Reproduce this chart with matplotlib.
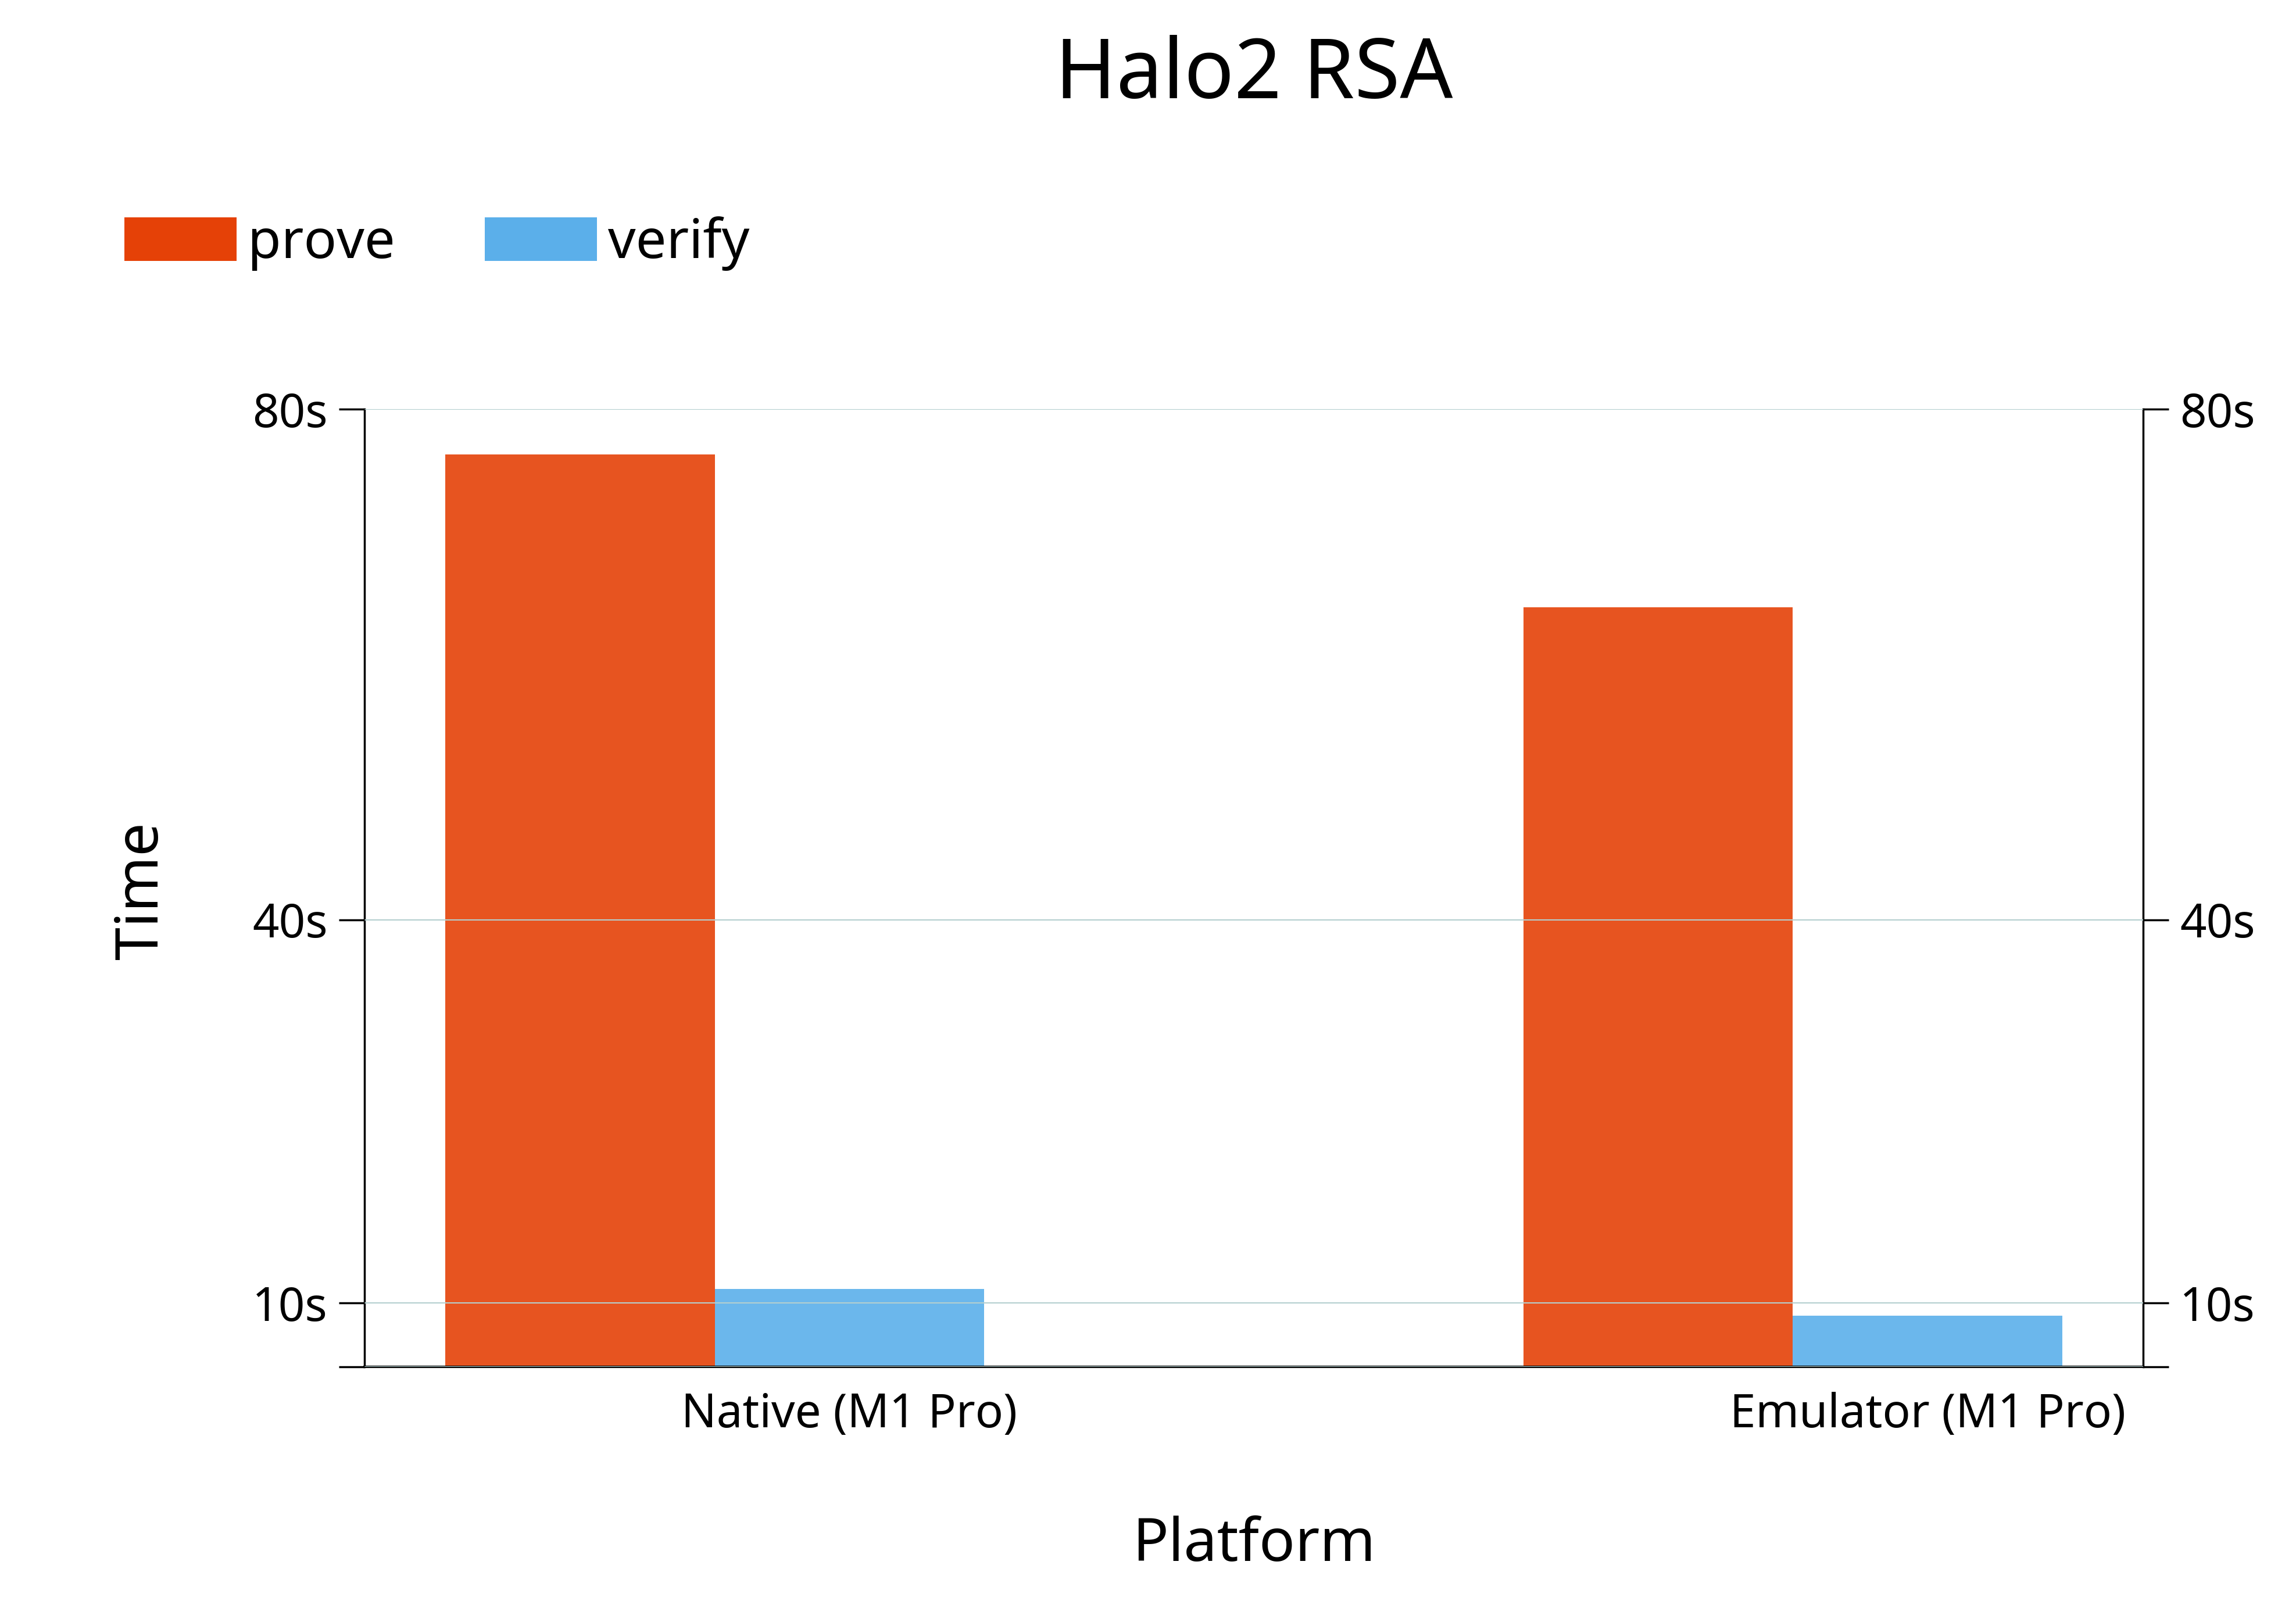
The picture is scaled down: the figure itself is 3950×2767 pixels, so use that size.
import matplotlib
matplotlib.use("Agg")
import matplotlib.pyplot as plt
from matplotlib.patches import Patch
import numpy as np

plt.rcParams['font.family'] = ['Noto Sans', 'DejaVu Sans']

# data (seconds)
platforms = ['Native (M1 Pro)', 'Emulator (M1 Pro)']
prove = [76.45, 64.5]
verify = [11.1, 9.0]
series = ['prove', 'verify']
y_ticks = [5, 10, 40, 80]
y_labels = ['', '10s', '40s', '80s']

prove_color = '#e54107'
verify_color = '#5bafea'
grid_color = '#b4cfcf'

fig = plt.figure(figsize=(15.8, 11.068), dpi=250)
ax = fig.add_axes([627 / 3950, 1 - 2352 / 2767, 3060 / 3950, 1648 / 2767])

x = np.arange(len(platforms))
w = 0.25
ax.bar(x - w / 2, prove, width=w, color=prove_color, alpha=0.9, linewidth=0)
ax.bar(x + w / 2, verify, width=w, color=verify_color, alpha=0.9, linewidth=0)

ax.set_xlim(-0.325, 1.325)
ax.set_ylim(5, 80)
ax.set_xticks(x + w / 2)
ax.set_xticklabels(platforms, fontsize=23)
ax.set_yticks(y_ticks)
ax.set_yticklabels(y_labels, fontsize=23)

ax.tick_params(axis='x', length=0, pad=12.5)
ax.tick_params(axis='y', length=12.7, width=1.0, pad=5.5, direction='out',
               right=True, labelright=True)

ax.set_axisbelow(False)
ax.grid(axis='y', color=grid_color, linewidth=0.6)

for side in ['left', 'right', 'bottom']:
    ax.spines[side].set_linewidth(1.0)
ax.spines['bottom'].set_linewidth(1.2)
ax.spines['top'].set_visible(False)

fig.text(2157 / 3950, 1 - 169 / 2767, 'Halo2 RSA', fontsize=41,
         ha='center', va='baseline')
fig.text(2157 / 3950, 1 - 2686 / 2767, 'Platform', fontsize=29.5,
         ha='center', va='baseline')
fig.text(271 / 3950, 1 - 1533 / 2767, 'Time', fontsize=29.5, rotation=90,
         rotation_mode='anchor', ha='center', va='baseline')

handles = [Patch(facecolor=prove_color, linewidth=0),
           Patch(facecolor=verify_color, linewidth=0)]
fig.legend(handles, series, loc='center left',
           bbox_to_anchor=(214 / 3950, 1 - 419 / 2767), ncol=2,
           frameon=False, fontsize=27, borderpad=0, borderaxespad=0,
           handlelength=2.06, handleheight=0.85, handletextpad=0.2,
           columnspacing=1.65)

fig.savefig('out.png', dpi=250)
